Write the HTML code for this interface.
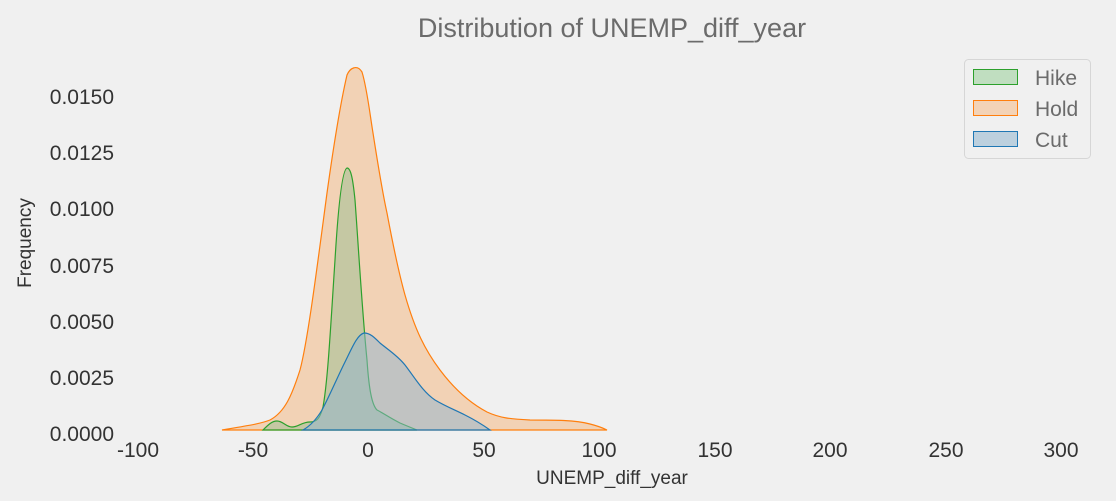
<!DOCTYPE html>
<html><head><meta charset="utf-8"><style>
body{margin:0;background:#f0f0f0;}
svg{display:block;font-family:"Liberation Sans","DejaVu Sans",sans-serif;}
</style></head><body>
<svg width="1116" height="501" viewBox="0 0 1116 501">
<rect width="1116" height="501" fill="#f0f0f0"/>
<text x="612" y="37" text-anchor="middle" font-size="27" fill="#6b6b6b">Distribution of UNEMP_diff_year</text>
<path d="M222,430 C245,426 260,424 270,420 C285,412 292,395 300,370 C308,340 318,260 327,193 C333,150 340,105 347,75 C350,68 357,64 362,72 C367,88 370,115 373,133 C378,165 383,195 387,213 C393,245 398,270 405,295 C415,330 425,350 440,370 C455,390 470,403 487,412 C500,418 510,419 530,420 C555,420 575,420 590,424 C598,426 603,428 607,430 Z" fill="#f5a55c" fill-opacity="0.4" stroke="#ff7f0e" stroke-width="1.2"/>
<path d="M263,430 C268,425 272,421 277,421 C283,421 286,427 292,427 C298,427 302,422 310,422 C317,422 320,418 323,407 C328,380 331,320 335,260 C338,210 342,170 347,168 C351,168 353,180 355,200 C358,240 362,310 367,360 C369,390 372,405 377,410 C383,413 390,418 400,423 C407,426 412,428 417,430 Z" fill="#8fbc8f" fill-opacity="0.45" stroke="#2ca02c" stroke-width="1.2"/>
<path d="M303,430 C310,426 316,420 322,410 C330,395 337,378 345,362 C352,348 357,335 364,333 C370,333 374,337 380,343 C387,349 397,355 405,365 C415,378 423,392 435,400 C445,406 455,410 465,415 C475,420 483,425 490,430 Z" fill="#8fb3cf" fill-opacity="0.5" stroke="#1f77b4" stroke-width="1.2"/>
<g font-size="21" fill="#333" text-anchor="end">
<text x="114" y="441">0.0000</text><text x="114" y="385">0.0025</text><text x="114" y="329">0.0050</text><text x="114" y="273">0.0075</text><text x="114" y="216">0.0100</text><text x="114" y="160">0.0125</text><text x="114" y="104">0.0150</text>
</g>
<g font-size="21" fill="#333" text-anchor="middle">
<text x="138" y="457">-100</text><text x="253" y="457">-50</text><text x="368" y="457">0</text><text x="484" y="457">50</text><text x="599" y="457">100</text><text x="715" y="457">150</text><text x="830" y="457">200</text><text x="946" y="457">250</text><text x="1061" y="457">300</text>
</g>
<text x="612" y="484" text-anchor="middle" font-size="19" fill="#333">UNEMP_diff_year</text>
<text transform="translate(31,243) rotate(-90)" text-anchor="middle" font-size="19" fill="#333">Frequency</text>
<rect x="964.5" y="59.5" width="126" height="99" rx="4" fill="#f0f0f0" stroke="#d6d6d6"/>
<rect x="973.5" y="69.5" width="44" height="15" fill="#c0dec0" stroke="#2ca02c"/>
<rect x="973.5" y="100.5" width="44" height="15" fill="#f3d3b7" stroke="#ff7f0e"/>
<rect x="973.5" y="131.5" width="44" height="15" fill="#bcd0de" stroke="#1f77b4"/>
<g font-size="21" fill="#6b6b6b"><text x="1035" y="85">Hike</text><text x="1035" y="116">Hold</text><text x="1035" y="147">Cut</text></g>
</svg>
</body></html>
